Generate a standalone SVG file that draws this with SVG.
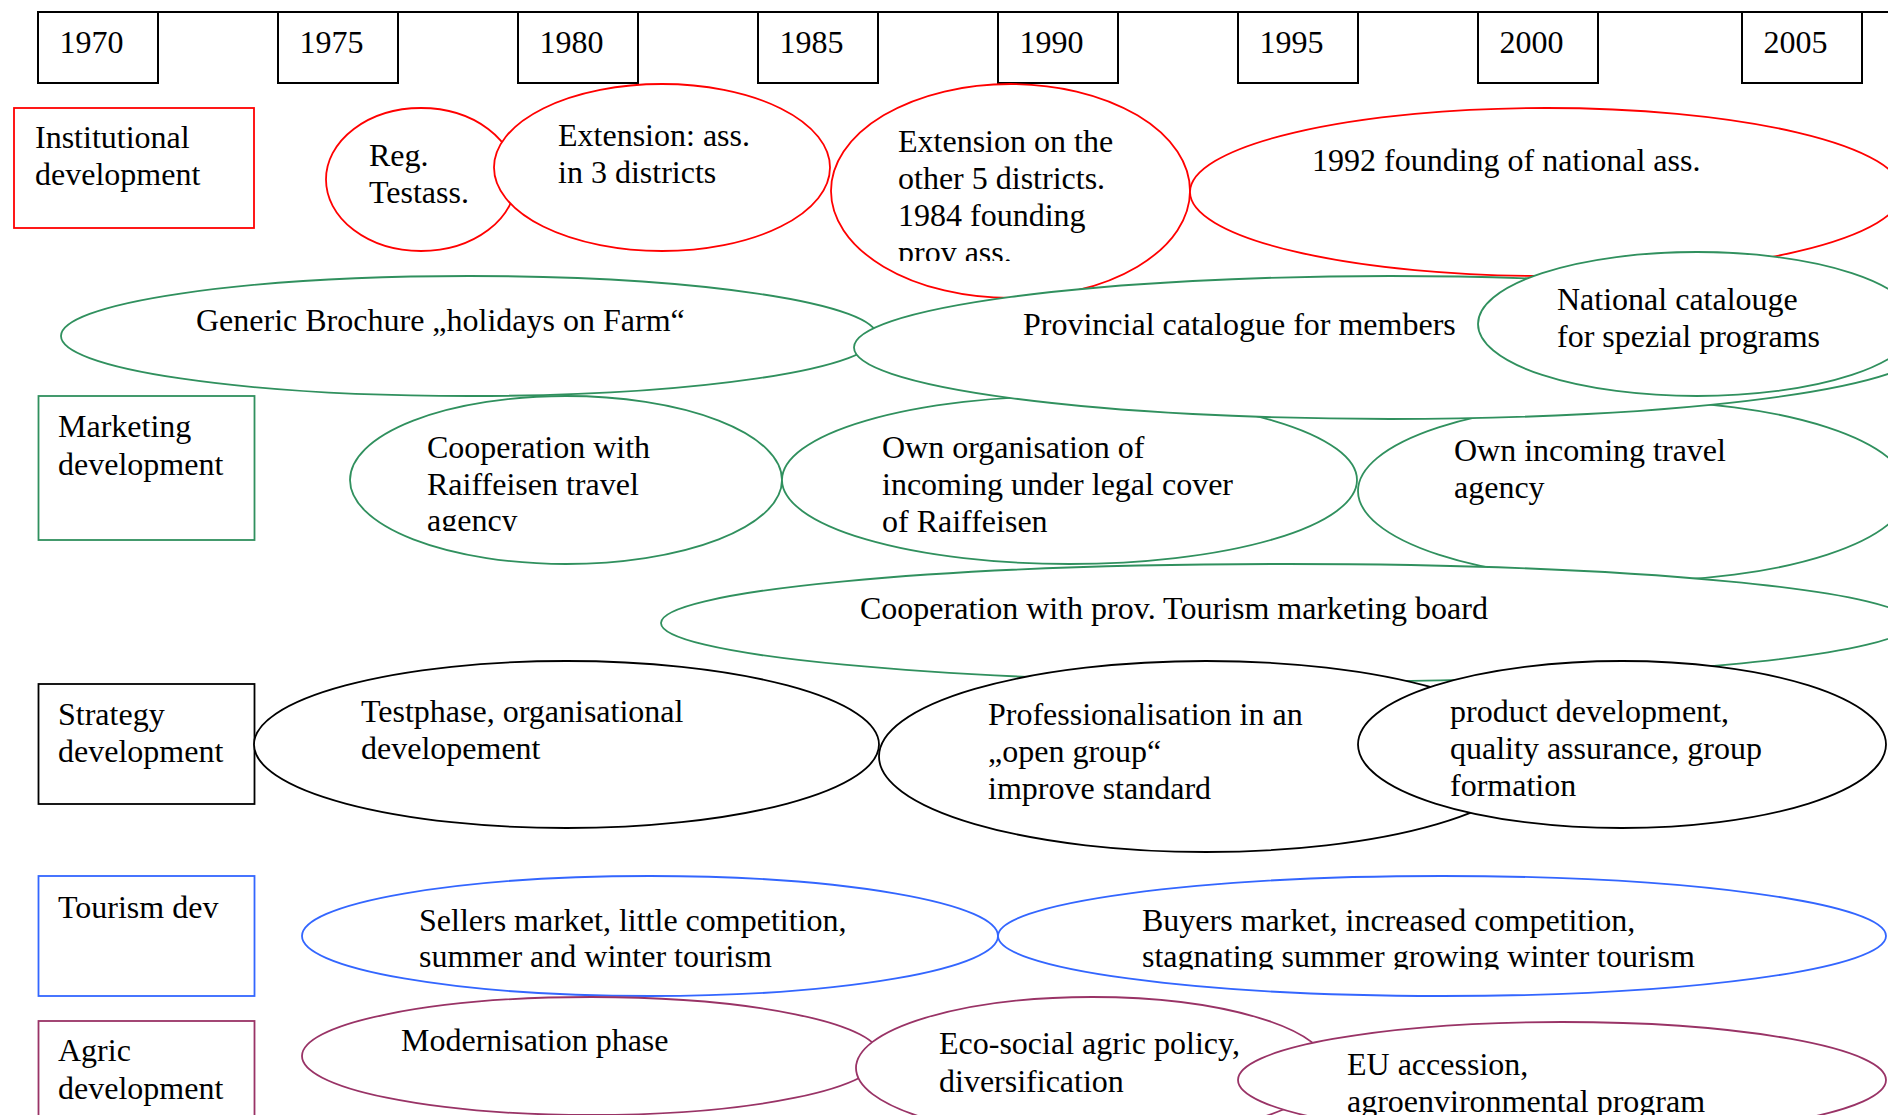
<svg xmlns="http://www.w3.org/2000/svg" width="1888" height="1115" viewBox="0 0 1888 1115">
<style>
text{font-family:"Liberation Serif","Times New Roman",serif;font-size:32px;fill:#000}
.yr{fill:#fff;stroke:#000;stroke-width:2}
.r,.g,.k,.b,.p{fill:#fff;stroke-width:1.8}
.r{stroke:#ff0000}
.g{stroke:#30905e}
.k{stroke:#000}
.b{stroke:#3366ff}
.p{stroke:#993366}
</style>
<defs>
<clipPath id="c1"><rect x="0" y="0" width="1888" height="261"/></clipPath>
<clipPath id="c2"><rect x="0" y="0" width="1888" height="531"/></clipPath>
<clipPath id="c3"><rect x="0" y="0" width="1888" height="969.5"/></clipPath>
</defs>
<rect x="0" y="0" width="1888" height="1115" fill="#fff"/>

<g id="timeline">
<line x1="38" y1="12" x2="1888" y2="12" stroke="#000" stroke-width="2.2"/>
<g id="y1970"><rect class="yr" x="38" y="12" width="120" height="71"/><text x="59.5" y="53">1970</text></g>
<g id="y1975"><rect class="yr" x="278" y="12" width="120" height="71"/><text x="299.5" y="53">1975</text></g>
<g id="y1980"><rect class="yr" x="518" y="12" width="120" height="71"/><text x="539.5" y="53">1980</text></g>
<g id="y1985"><rect class="yr" x="758" y="12" width="120" height="71"/><text x="779.5" y="53">1985</text></g>
<g id="y1990"><rect class="yr" x="998" y="12" width="120" height="71"/><text x="1019.5" y="53">1990</text></g>
<g id="y1995"><rect class="yr" x="1238" y="12" width="120" height="71"/><text x="1259.5" y="53">1995</text></g>
<g id="y2000"><rect class="yr" x="1478" y="12" width="120" height="71"/><text x="1499.5" y="53">2000</text></g>
<g id="y2005"><rect class="yr" x="1742" y="12" width="120" height="71"/><text x="1763.5" y="53">2005</text></g>
</g>

<g id="lbl-institutional"><rect class="r" x="14" y="108" width="240" height="120"/><text x="35" y="147.5">Institutional</text><text x="35" y="185">development</text></g>
<g id="lbl-marketing"><rect class="g" x="38.5" y="396" width="216" height="144"/><text x="58" y="437">Marketing</text><text x="58" y="474.5">development</text></g>
<g id="lbl-strategy"><rect class="k" x="38.5" y="684" width="216" height="120"/><text x="58" y="724.5">Strategy</text><text x="58" y="762">development</text></g>
<g id="lbl-tourism"><rect class="b" x="38.5" y="876" width="216" height="120"/><text x="58" y="917.5">Tourism dev</text></g>
<g id="lbl-agric"><rect class="p" x="38.5" y="1021" width="216" height="130"/><text x="58" y="1060.5">Agric</text><text x="58" y="1098.5">development</text></g>

<g id="connectors"></g>

<g id="n-reg"><ellipse class="r" cx="421" cy="179.5" rx="95" ry="71.5"/><text x="369" y="166">Reg.</text><text x="369" y="203">Testass.</text></g>
<g id="n-ext3"><ellipse class="r" cx="662" cy="167.5" rx="168" ry="83.5"/><text x="558" y="145.5">Extension: ass.</text><text x="558" y="183">in 3 districts</text></g>
<g id="n-ext5"><ellipse class="r" cx="1010.5" cy="191" rx="179.5" ry="107"/><g clip-path="url(#c1)"><text x="898" y="152">Extension on the</text><text x="898" y="189">other 5 districts.</text><text x="898" y="226">1984 founding</text><text x="898" y="262.5">prov ass.</text></g></g>
<g id="n-1992"><ellipse class="r" cx="1546" cy="192" rx="356" ry="84"/><text x="1312" y="170.5">1992 founding of national ass.</text></g>

<g id="n-generic"><ellipse class="g" cx="469" cy="336" rx="408" ry="60"/><text x="196" y="331">Generic Brochure „holidays on Farm“</text></g>
<g id="n-coopraiff"><ellipse class="g" cx="566" cy="480" rx="216" ry="84"/><g clip-path="url(#c2)"><text x="427" y="458">Cooperation with</text><text x="427" y="494.5">Raiffeisen travel</text><text x="427" y="531">agency</text></g></g>
<g id="n-ownorg"><ellipse class="g" cx="1069.5" cy="480" rx="287.5" ry="84"/><text x="882" y="458">Own organisation of</text><text x="882" y="495">incoming under legal cover</text><text x="882" y="531.5">of Raiffeisen</text></g>
<g id="n-ownincoming"><ellipse class="g" cx="1633" cy="491" rx="275" ry="90"/><text x="1454" y="461">Own incoming travel</text><text x="1454" y="498">agency</text></g>
<g id="n-coopprov"><ellipse class="g" cx="1286" cy="623" rx="625" ry="59"/><text x="860" y="619">Cooperation with prov. Tourism marketing board</text></g>
<g id="n-provincial"><ellipse class="g" cx="1390" cy="347.5" rx="536" ry="71.5"/><text x="1023" y="335">Provincial catalogue for members</text></g>
<g id="n-national"><ellipse class="g" cx="1697" cy="324" rx="219" ry="72"/><text x="1557" y="310">National catalouge</text><text x="1557" y="347">for spezial programs</text></g>

<g id="n-testphase"><ellipse class="k" cx="566.5" cy="744.5" rx="312.5" ry="83.5"/><text x="361" y="721.5">Testphase, organisational</text><text x="361" y="758.5">developement</text></g>
<g id="n-prof"><ellipse class="k" cx="1206" cy="756.5" rx="327" ry="95.5"/><text x="988" y="725">Professionalisation in an</text><text x="988" y="762">„open group“</text><text x="988" y="799">improve standard</text></g>
<g id="n-product"><ellipse class="k" cx="1622" cy="744.5" rx="264" ry="83.5"/><text x="1450" y="721.5">product development,</text><text x="1450" y="758.5">quality assurance, group</text><text x="1450" y="795.5">formation</text></g>

<g id="n-sellers"><ellipse class="b" cx="650" cy="936" rx="348" ry="60"/><text x="419" y="930.5">Sellers market, little competition,</text><text x="419" y="967">summer and winter tourism</text></g>
<g id="n-buyers"><ellipse class="b" cx="1442" cy="936" rx="444" ry="60"/><g clip-path="url(#c3)"><text x="1142" y="930.5">Buyers market, increased competition,</text><text x="1142" y="967">stagnating summer growing winter tourism</text></g></g>

<g id="n-modern"><ellipse class="p" cx="591" cy="1056" rx="289" ry="59"/><text x="401" y="1051">Modernisation phase</text></g>
<g id="n-eco"><ellipse class="p" cx="1092" cy="1068" rx="236" ry="71"/><text x="939" y="1054">Eco-social agric policy,</text><text x="939" y="1091.5">diversification</text></g>
<g id="n-eu"><ellipse class="p" cx="1562" cy="1080" rx="324" ry="58"/><text x="1347" y="1074.5">EU accession,</text><text x="1347" y="1111.5">agroenvironmental program</text></g>
</svg>
